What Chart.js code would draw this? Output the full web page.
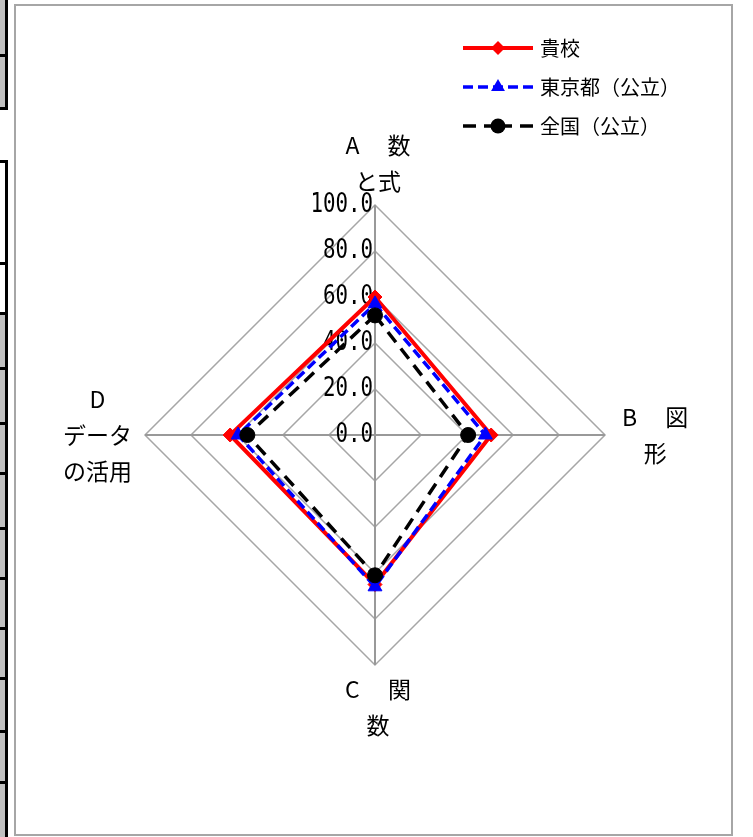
<!DOCTYPE html>
<html>
<head>
<meta charset="utf-8">
<script src="https://cdn.jsdelivr.net/npm/chart.js@4.4.1/dist/chart.umd.min.js"></script>
<style>
  html, body { margin: 0; padding: 0; background: #fff; }
  body { width: 753px; height: 837px; position: relative; overflow: hidden; }
  #frame { position: absolute; left: 14px; top: 4px; width: 715px; height: 828px; border: 2px solid #a6a6a6; }
  #wrap { position: absolute; left: 0; top: 0; width: 753px; height: 837px; }
  .cell { position: absolute; left: 0; width: 5px; border-right: 3px solid #000; border-bottom: 3px solid #000; background: #c0c0c0; }
  .cell.w { background: #fff; }
</style>
</head>
<body>
<div class="cell" style="top:0;height:54px"></div>
<div class="cell" style="top:57px;height:50px"></div>
<div class="cell w" style="top:160px;height:52px;border-top:3px solid #000"></div>
<div class="cell w" style="top:215px;height:47px"></div>
<div class="cell w" style="top:265px;height:47px"></div>
<div class="cell" style="top:315px;height:52px"></div>
<div class="cell" style="top:370px;height:52px"></div>
<div class="cell" style="top:425px;height:47px"></div>
<div class="cell" style="top:475px;height:52px"></div>
<div class="cell" style="top:530px;height:47px"></div>
<div class="cell" style="top:580px;height:47px"></div>
<div class="cell" style="top:630px;height:47px"></div>
<div class="cell" style="top:680px;height:50px"></div>
<div class="cell" style="top:733px;height:48px"></div>
<div class="cell" style="top:784px;height:60px"></div>
<div id="frame"></div>
<div id="wrap"><canvas id="radar"></canvas></div>
<script>
// categories (one array per label, one entry per line)
const categories = [["A　 数", "と式"], ["B　 図", "形"], ["C　 関", "数"], ["D", "データ", "の活用"]];
const seriesNames = ["貴校", "東京都（公立）", "全国（公立）"];
const school = [60, 50.5, 65, 63];
const tokyo = [57, 48, 66, 59.5];
const national = [52, 40.5, 61, 55.5];
const tickValues = [0, 20, 40, 60, 80, 100];
const tickLabels = ["0.0", "20.0", "40.0", "60.0", "80.0", "100.0"];

const jp = '"Noto Sans CJK JP", "Noto Sans", sans-serif';

function marker(ctx, style, x, y, r, color) {
  ctx.save();
  ctx.fillStyle = color;
  ctx.beginPath();
  if (style === "rectRot") {
    ctx.moveTo(x, y - r); ctx.lineTo(x + r, y); ctx.lineTo(x, y + r); ctx.lineTo(x - r, y);
  } else if (style === "triangle") {
    ctx.moveTo(x, y - r);
    ctx.lineTo(x + r * 0.866, y + r * 0.5);
    ctx.lineTo(x - r * 0.866, y + r * 0.5);
  } else {
    ctx.arc(x, y, r, 0, Math.PI * 2);
  }
  ctx.closePath();
  ctx.fill();
  ctx.restore();
}

const customText = {
  id: "customText",
  beforeDatasetsDraw(chart) {
    const ctx = chart.ctx;
    const s = chart.scales.r;
    // tick labels, right aligned against the vertical axis
    ctx.save();
    ctx.font = '26px "DejaVu Sans Mono", monospace';
    ctx.fillStyle = "#000";
    ctx.textBaseline = "middle";
    ctx.textAlign = "right";
    tickValues.forEach((v, i) => {
      const y = s.yCenter - s.getDistanceFromCenterForValue(v);
      ctx.save();
      ctx.translate(s.xCenter - 2, y);
      ctx.scale(0.8, 1);
      ctx.fillText(tickLabels[i], 0, 0);
      ctx.restore();
    });
    ctx.restore();
  },
  afterDraw(chart) {
    const ctx = chart.ctx;
    const s = chart.scales.r;
    const lh = 36;
    const pads = [6, 17, 6, 13];
    ctx.save();
    ctx.font = "23px " + jp;
    ctx.fillStyle = "#000";
    ctx.textBaseline = "middle";
    ctx.textAlign = "center";
    chart.data.labels.forEach((lines, i) => {
      const p = s.getPointPosition(i, s.drawingArea + pads[i]);
      const w = Math.max(...lines.map(t => ctx.measureText(t).width));
      const n = lines.length;
      let cx = p.x + 3, y0;
      if (i === 0) y0 = p.y - n * lh + lh / 2;
      else if (i === 2) y0 = p.y + lh / 2;
      else y0 = p.y - (n - 1) * lh / 2;
      if (i === 1) cx = p.x + w / 2;
      if (i === 3) cx = p.x - w / 2;
      lines.forEach((t, k) => ctx.fillText(t, cx, y0 + k * lh));
    });

    // legend, top right
    ctx.font = "20px " + jp;
    ctx.textAlign = "left";
    chart.data.datasets.forEach((ds, i) => {
      const y = 48 + i * 39;
      const x0 = 463, x1 = 533, xm = 498;
      ctx.save();
      ctx.strokeStyle = ds.borderColor;
      ctx.lineWidth = ds.borderWidth;
      ctx.setLineDash(ds.borderDash || []);
      ctx.beginPath(); ctx.moveTo(x0, y); ctx.lineTo(xm, y); ctx.stroke();
      ctx.beginPath(); ctx.moveTo(x1, y); ctx.lineTo(xm, y); ctx.stroke();
      ctx.restore();
      marker(ctx, ds.pointStyle, xm, y, ds.pointRadius, ds.borderColor);
      ctx.fillText(ds.label, 540, y);
    });
    ctx.restore();
  }
};

new Chart(document.getElementById("radar"), {
  type: "radar",
  data: {
    labels: categories,
    datasets: [
      { label: seriesNames[0], data: school, borderColor: "#ff0000", backgroundColor: "#ff0000",
        borderWidth: 4, pointStyle: "rectRot", pointRadius: 7, pointBorderWidth: 1, fill: false, order: 3 },
      { label: seriesNames[1], data: tokyo, borderColor: "#0000ff", backgroundColor: "#0000ff",
        borderWidth: 3.5, borderDash: [10, 5], pointStyle: "triangle", pointRadius: 8, pointBorderWidth: 1, fill: false, order: 2 },
      { label: seriesNames[2], data: national, borderColor: "#000000", backgroundColor: "#000000",
        borderWidth: 3.5, borderDash: [13, 8], pointStyle: "circle", pointRadius: 7.5, pointBorderWidth: 1, fill: false, order: 1 }
    ]
  },
  options: {
    responsive: true,
    maintainAspectRatio: false,
    animation: false,
    layout: { padding: { left: 145, right: 148, top: 205, bottom: 172 } },
    plugins: { legend: { display: false }, tooltip: { enabled: false } },
    elements: { line: { tension: 0 } },
    scales: {
      r: {
        min: 0,
        max: 100,
        ticks: { stepSize: 20, display: false },
        grid: { color: "#a6a6a6", lineWidth: 1.5 },
        angleLines: { color: "#999999", lineWidth: 2 },
        pointLabels: { display: false }
      }
    }
  },
  plugins: [customText]
});
</script>
</body>
</html>
